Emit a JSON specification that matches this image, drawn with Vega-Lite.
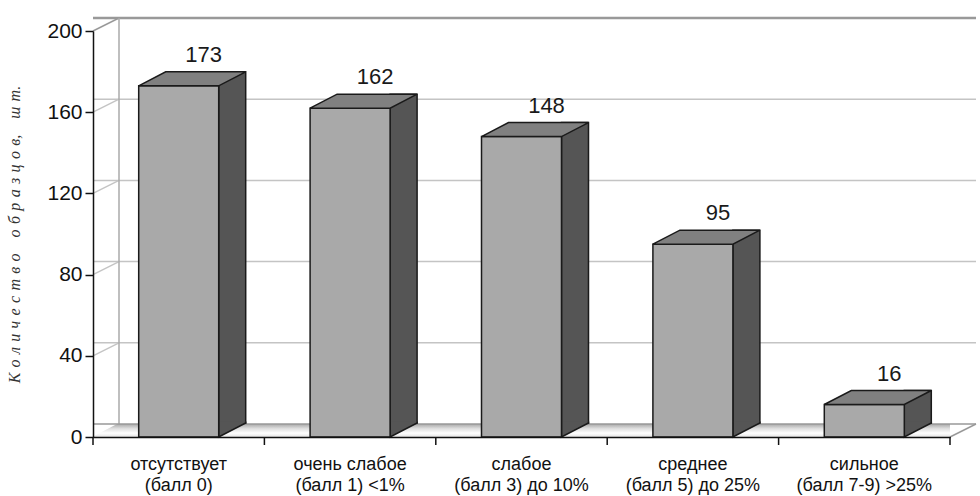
{
  "$schema": "https://vega.github.io/schema/vega-lite/v6.json",
  "width": 980,
  "height": 496,
  "autosize": {"type": "fit", "contains": "padding"},
  "padding": {"left": 6, "top": 15, "right": 0, "bottom": 1},
  "background": "white",
  "config": {"view": {"stroke": null}, "font": "Liberation Sans"},
  "datasets": {
    "bars": [
      {"cat": "отсутствует (балл 0)", "label": "отсутствует\n(балл 0)", "n": 173},
      {"cat": "очень слабое (балл 1) <1%", "label": "очень слабое\n(балл 1) <1%", "n": 162},
      {"cat": "слабое (балл 3) до 10%", "label": "слабое\n(балл 3) до 10%", "n": 148},
      {"cat": "среднее (балл 5) до 25%", "label": "среднее\n(балл 5) до 25%", "n": 95},
      {"cat": "сильное (балл 7-9) >25%", "label": "сильное\n(балл 7-9) >25%", "n": 16}
    ],
    "gridvals": [{"v": 0}, {"v": 40}, {"v": 80}, {"v": 120}, {"v": 160}, {"v": 200}]
  },
  "layer": [
    {
      "data": {"name": "gridvals"},
      "transform": [{"filter": "datum.v > 0 && datum.v < 200"}],
      "mark": {"type": "rule", "xOffset": 26, "x2Offset": 26, "yOffset": -13, "color": "#c4c4c4", "strokeWidth": 1.5},
      "encoding": {
        "y": {
          "field": "v", "type": "quantitative",
          "scale": {"domain": [0, 200], "nice": false, "zero": true},
          "axis": {
            "values": [0, 40, 80, 120, 160, 200],
            "grid": false,
            "title": "К\u2004о\u2004л\u2004и\u2004ч\u2004е\u2004с\u2004т\u2004в\u2004о\u2002\u2002о\u2004б\u2004р\u2004а\u2004з\u2004ц\u2004о\u2004в,\u2002\u2002ш\u2004т.",
            "titleFont": "Liberation Serif",
            "titleFontStyle": "italic",
            "titleFontWeight": "normal",
            "titleFontSize": 16,
            "titleColor": "#333333",
            "titlePadding": 24,
            "domainColor": "#111111",
            "domainWidth": 1.5,
            "tickColor": "#111111",
            "tickWidth": 1.5,
            "tickSize": 8,
            "labelFontSize": 21,
            "labelColor": "#111111",
            "labelPadding": 3,
            "zindex": 1
          }
        }
      }
    },
    {
      "data": {"name": "gridvals"},
      "transform": [{"filter": "datum.v == 200"}],
      "mark": {"type": "rule", "xOffset": 26, "x2Offset": 26, "yOffset": -13, "color": "#999999", "strokeWidth": 2.5},
      "encoding": {
        "y": {"field": "v", "type": "quantitative"}
      }
    },
    {
      "data": {"name": "gridvals"},
      "mark": {"type": "point", "shape": "M0,0 L26,-13", "size": 4, "filled": false, "opacity": 1, "strokeWidth": 1.5},
      "encoding": {
        "x": {"datum": "отсутствует (балл 0)", "type": "nominal", "bandPosition": 0},
        "y": {"field": "v", "type": "quantitative"},
        "color": {"condition": {"test": "datum.v == 200 || datum.v == 0", "value": "#999999"}, "value": "#c4c4c4"}
      }
    },
    {
      "data": {"values": [{}]},
      "mark": {"type": "rule", "color": "#aaaaaa", "strokeWidth": 1.5, "xOffset": 26, "yOffset": -13, "y2Offset": -13},
      "encoding": {
        "x": {"datum": "отсутствует (балл 0)", "type": "nominal", "bandPosition": 0},
        "y": {"datum": 0, "type": "quantitative"},
        "y2": {"datum": 200}
      }
    },
    {
      "data": {"values": [{}]},
      "mark": {
        "type": "rect",
        "x2Offset": 26,
        "y2Offset": -13,
        "fill": {
          "gradient": "linear", "x1": 0, "y1": 0, "x2": 0, "y2": 1,
          "stops": [
            {"offset": 0, "color": "#a8a8a8"},
            {"offset": 0.35, "color": "#dedede"},
            {"offset": 0.7, "color": "#ffffff"},
            {"offset": 1, "color": "#e4e4e4"}
          ]
        }
      },
      "encoding": {
        "y": {"datum": 0, "type": "quantitative"},
        "y2": {"datum": 0}
      }
    },
    {
      "data": {"values": [{}]},
      "mark": {"type": "point", "shape": "M-2,0.5 L-2,-14 L26,-14 Z", "size": 4, "filled": true, "opacity": 1, "fill": "white", "strokeWidth": 0},
      "encoding": {
        "x": {"datum": "отсутствует (балл 0)", "type": "nominal", "bandPosition": 0},
        "y": {"datum": 0, "type": "quantitative"}
      }
    },
    {
      "data": {"values": [{}]},
      "mark": {"type": "point", "shape": "M0.5,1 L30,1 L30,-14 L28,-14 Z", "size": 4, "filled": true, "opacity": 1, "fill": "white", "strokeWidth": 0},
      "encoding": {
        "x": {"datum": "сильное (балл 7-9) >25%", "type": "nominal", "bandPosition": 1},
        "y": {"datum": 0, "type": "quantitative"}
      }
    },
    {
      "data": {"values": [{}]},
      "mark": {"type": "point", "shape": "M0,0 L26,-13", "size": 4, "filled": false, "opacity": 1, "stroke": "#999999", "strokeWidth": 1.5},
      "encoding": {
        "x": {"datum": "сильное (балл 7-9) >25%", "type": "nominal", "bandPosition": 1},
        "y": {"datum": 0, "type": "quantitative"}
      }
    },
    {
      "data": {"values": [{}]},
      "mark": {"type": "rule", "xOffset": 26, "x2Offset": 26, "yOffset": -13, "color": "#999999", "strokeWidth": 1.5},
      "encoding": {
        "y": {"datum": 0, "type": "quantitative"}
      }
    },
    {
      "data": {"name": "bars"},
      "mark": {"type": "bar", "width": 27, "xOffset": 53.5, "yOffset": -14, "y2Offset": -14, "fill": "#555555", "stroke": "#1a1a1a", "strokeWidth": 1.5},
      "encoding": {
        "x": {
          "field": "cat", "type": "nominal",
          "scale": {
            "domain": ["отсутствует (балл 0)", "очень слабое (балл 1) <1%", "слабое (балл 3) до 10%", "среднее (балл 5) до 25%", "сильное (балл 7-9) >25%"],
            "paddingInner": 0, "paddingOuter": 0
          },
          "axis": {
            "title": null,
            "labels": false,
            "ticks": false,
            "domainColor": "#111111",
            "domainWidth": 1.5,
            "zindex": 1
          }
        },
        "y": {"field": "n", "type": "quantitative"}
      }
    },
    {
      "data": {"name": "bars"},
      "mark": {"type": "rule", "color": "#111111", "strokeWidth": 1.5, "y2Offset": 8},
      "encoding": {
        "x": {"field": "cat", "type": "nominal", "bandPosition": 0},
        "y": {"datum": 0, "type": "quantitative"},
        "y2": {"datum": 0}
      }
    },
    {
      "data": {"values": [{}]},
      "mark": {"type": "rule", "color": "#111111", "strokeWidth": 1.5, "y2Offset": 8},
      "encoding": {
        "x": {"datum": "сильное (балл 7-9) >25%", "type": "nominal", "bandPosition": 1},
        "y": {"datum": 0, "type": "quantitative"},
        "y2": {"datum": 0}
      }
    },
    {
      "data": {"name": "bars"},
      "mark": {"type": "text", "dy": 33, "baseline": "alphabetic", "align": "center", "lineBreak": "\n", "lineHeight": 21, "fontSize": 18, "color": "#111111"},
      "encoding": {
        "x": {"field": "cat", "type": "nominal"},
        "y": {"datum": 0, "type": "quantitative"},
        "text": {"field": "label", "type": "nominal"}
      }
    },
    {
      "data": {"name": "bars"},
      "mark": {"type": "point", "shape": "M40,-15.5 L40,0 L67,-14 L67,-15.5", "size": 4, "filled": true, "opacity": 1, "fill": "#555555", "stroke": "#1a1a1a", "strokeWidth": 1.5},
      "encoding": {
        "x": {"field": "cat", "type": "nominal"},
        "y": {"datum": 0, "type": "quantitative"}
      }
    },
    {
      "data": {"name": "bars"},
      "mark": {"type": "bar", "width": 80, "fill": "#a9a9a9", "stroke": "#1a1a1a", "strokeWidth": 1.5},
      "encoding": {
        "x": {"field": "cat", "type": "nominal"},
        "y": {"field": "n", "type": "quantitative"}
      }
    },
    {
      "data": {"name": "bars"},
      "mark": {"type": "point", "shape": "M-40,0 L40,0 L67,-14 L-13,-14 Z", "size": 4, "filled": true, "opacity": 1, "fill": "#808080", "stroke": "#1a1a1a", "strokeWidth": 1.5},
      "encoding": {
        "x": {"field": "cat", "type": "nominal"},
        "y": {"field": "n", "type": "quantitative"}
      }
    },
    {
      "data": {"name": "bars"},
      "mark": {"type": "text", "dx": 25, "dy": -24, "baseline": "alphabetic", "fontSize": 22, "color": "#1a1a1a"},
      "encoding": {
        "x": {"field": "cat", "type": "nominal"},
        "y": {"field": "n", "type": "quantitative"},
        "text": {"field": "n", "type": "quantitative"}
      }
    }
  ]
}
